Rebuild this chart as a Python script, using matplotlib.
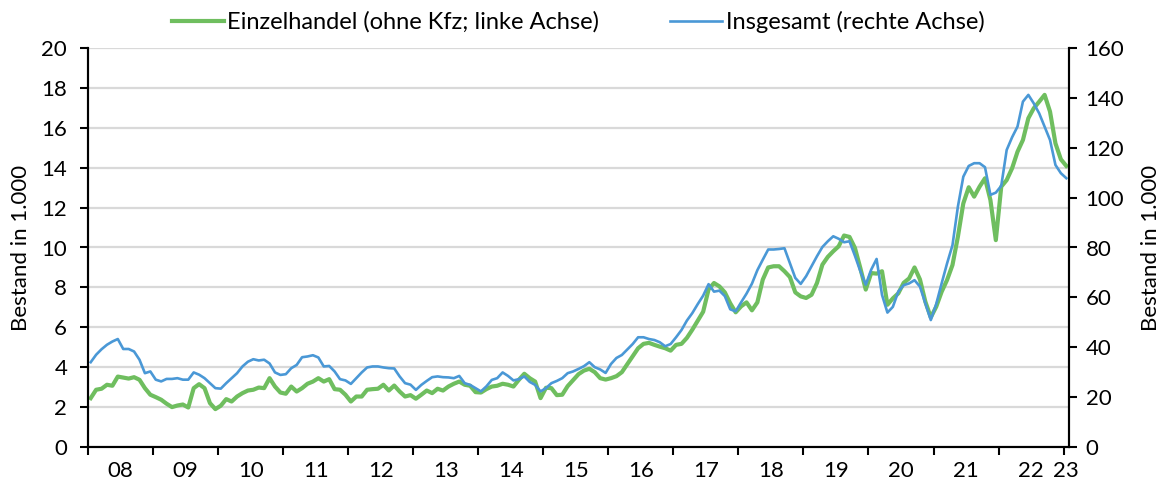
import numpy as np
import matplotlib
matplotlib.use("Agg")
import matplotlib.pyplot as plt
from matplotlib.ticker import FixedLocator, NullFormatter

plt.rcParams['font.family'] = ['Lato', 'DejaVu Sans']

# monthly values Jan 2008 .. Jan 2023
retail = [
    2.45, 2.87, 2.92, 3.12, 3.07, 3.53, 3.48, 3.43, 3.5, 3.37, 2.95, 2.62,       # 2008
    2.5, 2.37, 2.17, 2.0, 2.08, 2.13, 1.98, 2.95, 3.15, 2.95, 2.2, 1.9,          # 2009
    2.07, 2.4, 2.28, 2.53, 2.7, 2.83, 2.87, 2.98, 2.95, 3.45, 3.03, 2.73,        # 2010
    2.67, 3.03, 2.78, 2.95, 3.17, 3.28, 3.45, 3.28, 3.4, 2.9, 2.87, 2.62,        # 2011
    2.28, 2.53, 2.53, 2.87, 2.9, 2.92, 3.12, 2.83, 3.08, 2.78, 2.53, 2.6,        # 2012
    2.42, 2.62, 2.83, 2.7, 2.92, 2.83, 3.03, 3.17, 3.28, 3.12, 3.07, 2.75,       # 2013
    2.73, 2.9, 3.03, 3.07, 3.17, 3.12, 3.03, 3.37, 3.67, 3.45, 3.28, 2.45,       # 2014
    2.97, 2.95, 2.6, 2.62, 3.05, 3.35, 3.65, 3.83, 3.92, 3.75, 3.45, 3.38,       # 2015
    3.45, 3.55, 3.75, 4.15, 4.55, 4.95, 5.17, 5.22, 5.12, 5.03, 4.95, 4.83,      # 2016
    5.12, 5.17, 5.47, 5.88, 6.33, 6.78, 7.9, 8.22, 8.05, 7.75, 7.2, 6.75,        # 2017
    7.05, 7.25, 6.85, 7.25, 8.39, 9.0, 9.06, 9.06, 8.81, 8.52, 7.75, 7.55,       # 2018
    7.47, 7.63, 8.22, 9.14, 9.53, 9.81, 10.06, 10.6, 10.53, 9.98, 8.97, 7.89,    # 2019
    8.72, 8.69, 8.81, 7.13, 7.45, 7.7, 8.23, 8.45, 9.0, 8.4, 7.28, 6.5,          # 2020
    7.03, 7.78, 8.37, 9.12, 10.54, 12.21, 13.02, 12.55, 13.05, 13.47, 12.38, 10.37,  # 2021
    13.05, 13.38, 13.97, 14.8, 15.39, 16.48, 16.98, 17.31, 17.65, 16.81, 15.22, 14.42,  # 2022
    14.09,                                                                        # 2023
]
total = [
    34, 37, 39.2, 41, 42.3, 43.3, 39.3, 39.3, 38.3, 35, 29.6, 30.3,
    27, 26.3, 27.3, 27.3, 27.6, 27, 27, 29.9, 29, 27.6, 25.6, 23.6,
    23.4, 25.6, 27.6, 29.6, 32.3, 34.2, 35.2, 34.7, 35, 33.5, 29.9, 28.9,
    29.2, 31.6, 32.9, 36, 36.3, 36.8, 35.9, 32.3, 32.5, 30.3, 27.2, 26.7,
    25.3, 27.6, 29.9, 31.9, 32.3, 32.3, 31.9, 31.6, 31.5, 28.3, 25.6, 25,
    22.9, 24.9, 26.5, 28, 28.3, 28, 27.9, 27.6, 28.5, 25.6, 24.9, 23.6,
    22.3, 24.3, 26.9, 27.6, 29.9, 28.5, 26.7, 27.2, 28.3, 26.1, 24.9, 22.3,
    23.6, 25.6, 26.5, 27.6, 29.6, 30.3, 31.3, 32.4, 34, 32, 31.1, 29.7,
    33.3, 35.7, 36.9, 39.1, 41.3, 44, 44, 43.3, 42.9, 42, 40.4, 41.3,
    44, 46.9, 50.7, 53.7, 57.3, 60.7, 65.3, 62.3, 62.7, 60.5, 55.2, 54.4,
    58, 61.5, 65.5, 70.9, 75.1, 79.2, 79.2, 79.4, 79.7, 73.8, 67.8, 65.4,
    68.5, 72.5, 76.5, 80.2, 82.5, 84.5, 83.5, 82.1, 82.5, 76.7, 70.5, 65.1,
    71.1, 75.4, 61, 53.9, 56.2, 62.3, 64.9, 65.6, 66.9, 64.3, 57.6, 50.9,
    57.3, 65.6, 73.6, 80.9, 96.4, 108.4, 112.7, 113.8, 113.8, 112.2, 101.1, 102,
    104.7, 119.1, 124.2, 128.5, 138.5, 141.2, 137.8, 133.8, 128.5, 123.1, 113.1, 109.8,
    107.8,
]
year_labels = ["08", "09", "10", "11", "12", "13", "14", "15", "16", "17",
               "18", "19", "20", "21", "22", "23"]

GREEN = "#6fbe5f"
BLUE = "#4a98d6"
FS = 15

x = np.arange(len(retail))

fig = plt.figure(figsize=(11.61, 4.86), dpi=100)
ax = fig.add_axes([88 / 1161, 39 / 486, 981 / 1161, 399 / 486])
ax2 = ax.twinx()

l1, = ax.plot(x, retail, color=GREEN, lw=3.0, solid_joinstyle="round",
              label="Einzelhandel (ohne Kfz; linke Achse)")
l2, = ax2.plot(x, total, color=BLUE, lw=1.9, solid_joinstyle="round",
               label="Insgesamt (rechte Achse)")

ax.set_xlim(-0.5, len(retail) - 0.5)
ax.set_ylim(0, 20)
ax2.set_ylim(0, 160)
ax.set_yticks(np.arange(0, 21, 2))
ax2.set_yticks(np.arange(0, 161, 20))
ax.grid(axis="y", color="#d9d9d9", lw=1.6)
ax.set_axisbelow(True)

# year boundaries as ticks, labels centred in each year
bounds = np.arange(-0.5, len(retail), 12)
ax.xaxis.set_major_locator(FixedLocator(bounds))
ax.xaxis.set_major_formatter(NullFormatter())
centres = list(np.arange(5.5, 12 * 15, 12)) + [len(retail) - 1]
ax.xaxis.set_minor_locator(FixedLocator(centres))
ax.set_xticklabels(year_labels, minor=True)
ax.tick_params(axis="x", which="major", length=6, width=1.5, direction="out")
ax.tick_params(axis="x", which="minor", length=0, pad=10, labelsize=FS + 1)

ax.tick_params(axis="y", length=6, width=1.5, labelsize=FS + 1, pad=9)
ax2.tick_params(axis="y", length=6, width=1.5, labelsize=FS + 1, pad=6)

for a in (ax, ax2):
    a.spines["top"].set_visible(False)
    for s in ("left", "right", "bottom"):
        a.spines[s].set_linewidth(1.5)

ax.set_ylabel("Bestand in 1.000", fontsize=FS + 1)
ax2.set_ylabel("Bestand in 1.000", fontsize=FS + 1, rotation=90)
ax.yaxis.set_label_coords(-0.058, 0.5)
ax2.yaxis.set_label_coords(1.073, 0.5)

fig.legend(handles=[l1, l2], loc="center", bbox_to_anchor=(0.498, 0.955),
           ncol=2, frameon=False, fontsize=FS + 2, handlelength=2.2,
           handletextpad=0.15, columnspacing=3.0)

fig.savefig("out.png", dpi=100)
